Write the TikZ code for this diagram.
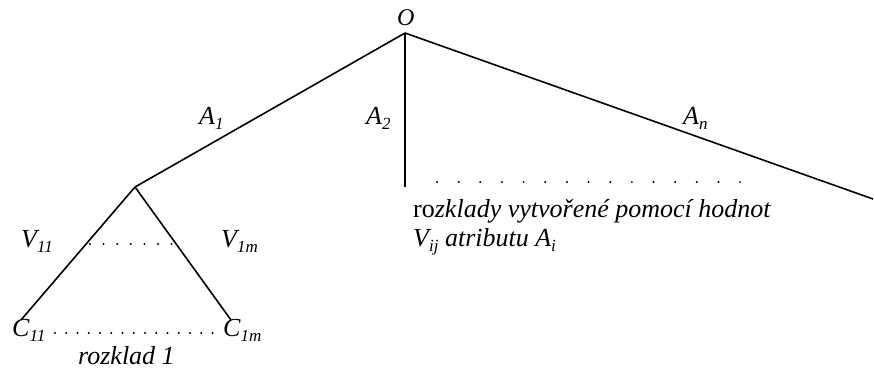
\documentclass[tikz,border=0pt]{standalone}
\usepackage{fontspec}
\setmainfont{Liberation Serif}
\newcommand{\lowsub}[1]{\raisebox{-0.22em}{\fontsize{17}{17}\selectfont\itshape #1}}
\begin{document}
\begin{tikzpicture}[x=1pt,y=-1pt,
  edge/.style={line width=1.6pt},
  lbl/.style={font=\fontsize{26}{28}\selectfont\itshape, inner sep=0pt, anchor=base west},
  dotrow/.style={line width=2.2pt, dash pattern=on 0pt off #1, line cap=round}]
\useasboundingbox (0,0) rectangle (874,369);
\coordinate (o) at (405,33);
\coordinate (a1) at (135,187);
\coordinate (a2) at (405,187);
\coordinate (an) at (873,199);
\coordinate (c11) at (21,320);
\coordinate (c1m) at (231,320);
\draw[edge] (o) -- (a1);
\draw[edge] (o) -- (a2);
\draw[edge] (o) -- (an);
\draw[edge] (a1) -- (c11);
\draw[edge] (a1) -- (c1m);
\node[lbl, font=\fontsize{24}{26}\selectfont\itshape] (lo) at (397,26) {O};
\node[lbl] (la1) at (199,124) {A\lowsub{1}};
\node[lbl] (la2) at (366,124) {A\lowsub{2}};
\node[lbl] (lan) at (683,124) {A\lowsub{n}};
\node[lbl] (lv11) at (21,247) {V\lowsub{11}};
\node[lbl] (lv1m) at (221,247) {V\lowsub{1m}};
\node[lbl] (lc11) at (12,336) {C\lowsub{11}};
\node[lbl] (lc1m) at (223,336) {C\lowsub{1m}};
\node[lbl] (lr1) at (78,364) {rozklad 1};
\node[lbl] (lrr) at (413,217) {{\upshape ro}zklady vytvořené pomocí hodnot};
\node[lbl] (lvij) at (413,246) {V\lowsub{ij} atributu A\lowsub{i}};
\coordinate (d1a) at (90,244); \coordinate (d1b) at (172.5,244);
\coordinate (d2a) at (55,333); \coordinate (d2b) at (213.5,333);
\coordinate (d3a) at (437,182); \coordinate (d3b) at (741.5,182);
\draw[dotrow=13.6pt] (d1a) -- (d1b);
\draw[dotrow=11.25pt] (d2a) -- (d2b);
\draw[dotrow=21.65pt] (d3a) -- (d3b);
\end{tikzpicture}
\end{document}
